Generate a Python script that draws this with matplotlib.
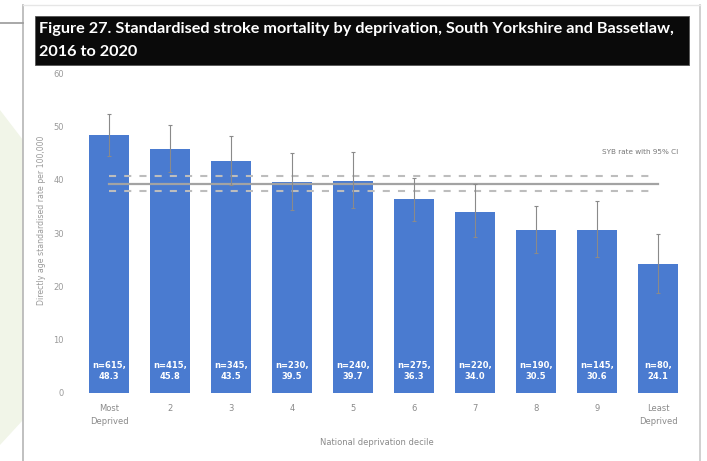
import matplotlib
matplotlib.use("Agg")
import matplotlib.pyplot as plt
from matplotlib.patches import Rectangle, Polygon
from matplotlib.lines import Line2D

# Data: directly age-standardised stroke mortality per 100,000 by national deprivation decile
deciles = ["Most\nDeprived", "2", "3", "4", "5", "6", "7", "8", "9", "Least\nDeprived"]
deaths = [615, 415, 345, 230, 240, 275, 220, 190, 145, 80]
rates = [48.3, 45.8, 43.5, 39.5, 39.7, 36.3, 34.0, 30.5, 30.6, 24.1]
ci_lower = [44.4, 41.5, 39.0, 34.3, 34.6, 32.3, 29.2, 26.2, 25.5, 18.8]
ci_upper = [52.3, 50.3, 48.2, 45.0, 45.1, 40.4, 39.2, 35.1, 36.0, 29.9]
syb_rate = 39.2
syb_ci = (37.9, 40.7)
yticks = [0, 10, 20, 30, 40, 50, 60]

W, H = 707, 461
fig = plt.figure(figsize=(W / 100, H / 100), dpi=100)
fig.patch.set_facecolor("white")

def fx(px):
    return px / W

def fy(py):
    return 1 - py / H

# faint green backdrop on the page margin
leaf = Polygon([(fx(0), fy(110)), (fx(23), fy(140)), (fx(23), fy(420)),
                (fx(0), fy(445))], closed=True, transform=fig.transFigure,
               facecolor="#f1f5e8", edgecolor="none", zorder=0)
fig.patches.append(leaf)

# page frame
fig.add_artist(Line2D([fx(23), fx(23)], [fy(5), fy(461)], transform=fig.transFigure,
                      color="#b5b5b5", lw=1.2))
fig.add_artist(Line2D([fx(700), fx(700)], [fy(5), fy(461)], transform=fig.transFigure,
                      color="#c8c8c8", lw=1.2))
fig.add_artist(Line2D([fx(23), fx(700)], [fy(5), fy(5)], transform=fig.transFigure,
                      color="#e6e6e6", lw=1.0))
fig.add_artist(Line2D([fx(0), fx(23)], [fy(23), fy(23)], transform=fig.transFigure,
                      color="#9a9a9a", lw=1.2))

# title banner
fig.patches.append(Rectangle((fx(35), fy(65)), fx(689) - fx(35), fy(16) - fy(65),
                             transform=fig.transFigure, facecolor="#0a0a0a",
                             edgecolor="#555555", lw=0.6, zorder=1))
fig.text(fx(39), fy(29), "Figure 27. Standardised stroke mortality by deprivation, South Yorkshire and Bassetlaw,",
         color="white", fontsize=11.7, fontweight="bold", family="Lato",
         va="center", ha="left", zorder=2)
fig.text(fx(39), fy(52), "2016 to 2020", color="white", fontsize=11.7,
         fontweight="bold", family="Lato", va="center", ha="left", zorder=2)

# chart axes
x0, x1 = -0.6, 9.6
left_px = 109 + x0 * 61
right_px = 658 + (x1 - 9) * 61
ax = fig.add_axes([fx(left_px), fy(393), fx(right_px) - fx(left_px), fy(73) - fy(393)])
ax.set_facecolor("none")
x = list(range(len(deciles)))
bar_color = "#4a7bd0"
ax.bar(x, rates, width=0.64, color=bar_color, zorder=2)

yerr = [[r - lo for r, lo in zip(rates, ci_lower)],
        [hi - r for r, hi in zip(rates, ci_upper)]]
ax.errorbar(x, rates, yerr=yerr, fmt="none", ecolor="#8a8a8a", elinewidth=0.8,
            capsize=1.5, capthick=0.8, zorder=4)

# SYB reference line with 95% CI
ax.plot([0, 9], [syb_rate, syb_rate], color="#a3a3a3", lw=1.6, zorder=3)
for v in syb_ci:
    ax.plot([0, 8.92], [v, v], color="#bdbdbd", lw=1.5, zorder=3,
            dashes=(3.4, 3.9))
ax.text(8.7, 45.2, "SYB rate with 95% CI", fontsize=5.2, color="#777777",
        ha="center", va="center")

for xi, n, r in zip(x, deaths, rates):
    ax.text(xi, 4.1, f"n={n},\n{r:.1f}", color="white", fontsize=6,
            fontweight="bold", ha="center", va="center", linespacing=1.35, zorder=5)

ax.set_xlim(x0, x1)
ax.set_ylim(0, 60)
ax.set_yticks(yticks)
ax.set_xticks(x)
ax.set_xticklabels(deciles, fontsize=6, color="#8a8a8a", linespacing=1.5)
ax.tick_params(axis="y", labelsize=6, labelcolor="#9a9a9a", length=0, pad=6)
ax.tick_params(axis="x", length=0, pad=8)
for s in ax.spines.values():
    s.set_visible(False)

ax.set_xlabel("National deprivation decile", fontsize=6, color="#8a8a8a")
ax.xaxis.set_label_coords(0.49, -0.142)
ax.set_ylabel("Directly age standardised rate per 100,000", fontsize=5.6, color="#9a9a9a")
ax.yaxis.set_label_coords(-0.042, 0.54)

fig.savefig("out.png", dpi=100)
